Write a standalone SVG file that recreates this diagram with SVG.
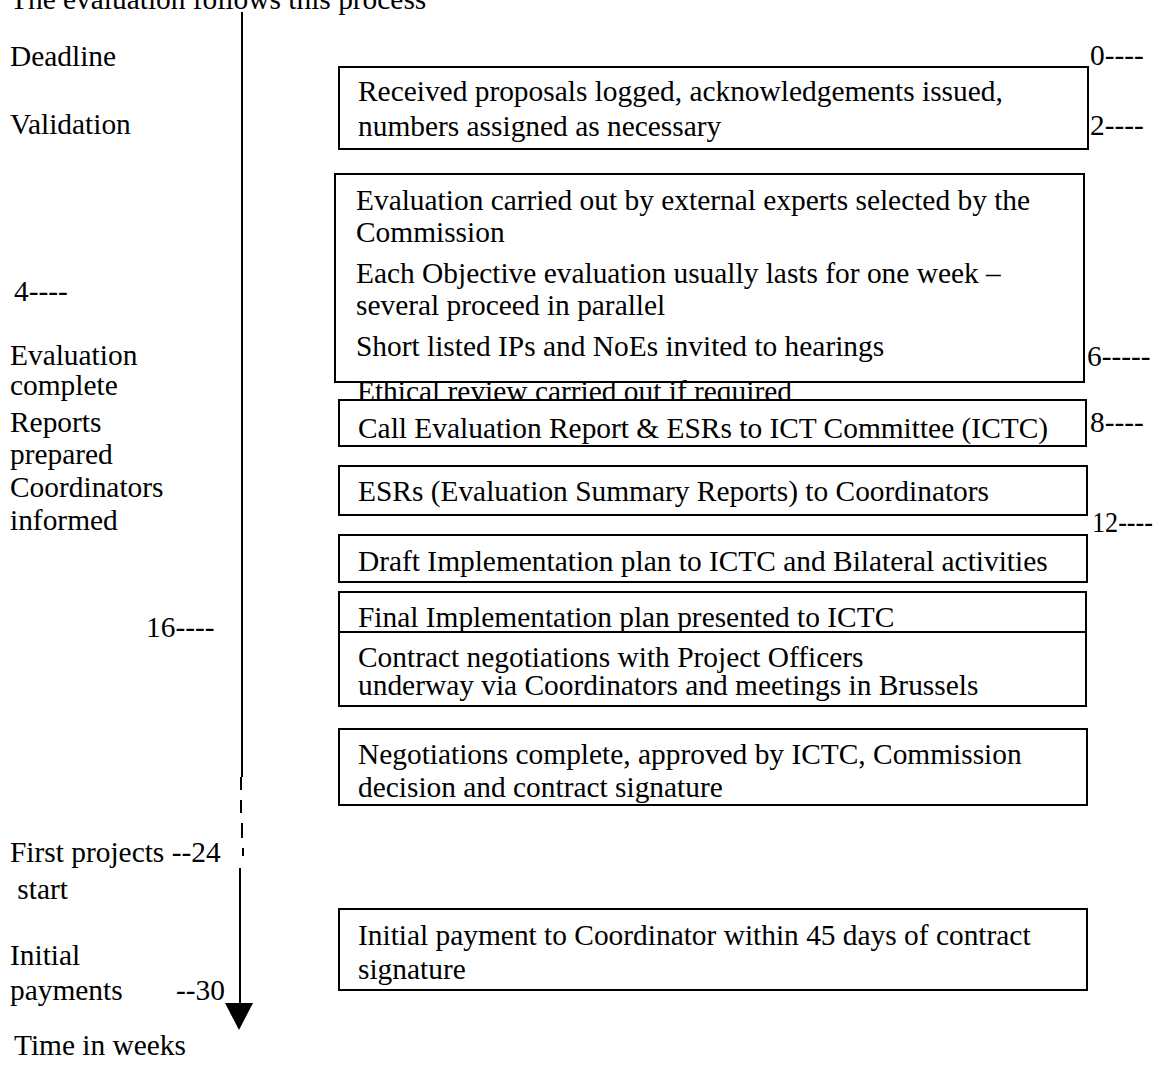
<svg xmlns="http://www.w3.org/2000/svg" width="1156" height="1068" viewBox="0 0 1156 1068">
  <style>
    text { font-family: "Liberation Serif", "Times New Roman", serif; font-size: 29.4px; fill: #000; }
    .box { fill: #fff; stroke: #000; stroke-width: 2; }
    .axis { stroke: #000; stroke-width: 2; fill: none; }
  </style>
  <rect width="1156" height="1068" fill="#fff"/>

  <!-- heading -->
  <text x="10" y="9">The evaluation follows this process</text>

  <!-- time axis -->
  <g id="connectors">
    <line class="axis" x1="242" y1="12" x2="242" y2="777"/>
    <line class="axis" x1="241" y1="777" x2="241" y2="790"/>
    <line class="axis" x1="241" y1="800" x2="241" y2="813"/>
    <line class="axis" x1="242" y1="823" x2="242" y2="838"/>
    <line class="axis" x1="243" y1="848" x2="243" y2="856"/>
    <line class="axis" x1="240" y1="868" x2="240" y2="1004"/>
    <polygon points="225,1003 253,1003 239,1030" fill="#000"/>
  </g>

  <!-- left-hand milestone labels -->
  <g id="left-labels">
    <text x="10" y="66">Deadline</text>
    <text x="10" y="134">Validation</text>
    <text x="14" y="301">4----</text>
    <text x="10" y="365">Evaluation</text>
    <text x="10" y="395">complete</text>
    <text x="10" y="432">Reports</text>
    <text x="10" y="464">prepared</text>
    <text x="10" y="497">Coordinators</text>
    <text x="10" y="530">informed</text>
    <text x="146" y="637">16----</text>
    <text x="10" y="862">First projects --24</text>
    <text x="10" y="899" xml:space="preserve"> start</text>
    <text x="10" y="965">Initial</text>
    <text x="10" y="1000">payments</text>
    <text x="176" y="1000">--30</text>
    <text x="14" y="1055">Time in weeks</text>
  </g>

  <!-- right-hand week markers -->
  <g id="right-labels">
    <text x="1090" y="65">0----</text>
    <text x="1090" y="135">2----</text>
    <text x="1087" y="366">6-----</text>
    <text x="1090" y="432">8----</text>
    <text x="1092" y="532" textLength="61" lengthAdjust="spacingAndGlyphs">12----</text>
  </g>

  <g id="received">
    <rect class="box" x="339" y="67" width="749" height="82"/>
    <text x="358" y="101">Received proposals logged, acknowledgements issued,</text>
    <text x="358" y="136">numbers assigned as necessary</text>
  </g>

  <g id="evaluation">
    <rect class="box" x="335" y="174" width="749" height="208"/>
    <text x="356" y="210">Evaluation carried out by external experts selected by the</text>
    <text x="356" y="242">Commission</text>
    <text x="356" y="283">Each Objective evaluation usually lasts for one week –</text>
    <text x="356" y="315">several proceed in parallel</text>
    <text x="356" y="356">Short listed IPs and NoEs invited to hearings</text>
    <text x="357" y="401">Ethical review carried out if required</text>
  </g>

  <g id="call-report">
    <rect class="box" x="339" y="400" width="747" height="46"/>
    <text x="358" y="438">Call Evaluation Report &amp; ESRs to ICT Committee (ICTC)</text>
  </g>

  <g id="esrs">
    <rect class="box" x="339" y="466" width="748" height="49"/>
    <text x="358" y="501">ESRs (Evaluation Summary Reports) to Coordinators</text>
  </g>

  <g id="draft-plan">
    <rect class="box" x="339" y="535" width="748" height="47"/>
    <text x="358" y="571">Draft Implementation plan to ICTC and Bilateral activities</text>
  </g>

  <g id="final-plan">
    <rect class="box" x="339" y="592" width="747" height="114"/>
    <text x="358" y="627">Final Implementation plan presented to ICTC</text>
    <line x1="339" y1="632" x2="1086" y2="632" stroke="#000" stroke-width="2"/>
    <text x="358" y="667">Contract negotiations with Project Officers</text>
    <text x="358" y="695">underway via Coordinators and meetings in Brussels</text>
  </g>

  <g id="negotiations">
    <rect class="box" x="339" y="729" width="748" height="76"/>
    <text x="358" y="764">Negotiations complete, approved by ICTC, Commission</text>
    <text x="358" y="797">decision and contract signature</text>
  </g>

  <g id="initial-payment">
    <rect class="box" x="339" y="909" width="748" height="81"/>
    <text x="358" y="945">Initial payment to Coordinator within 45 days of contract</text>
    <text x="358" y="979">signature</text>
  </g>
</svg>
